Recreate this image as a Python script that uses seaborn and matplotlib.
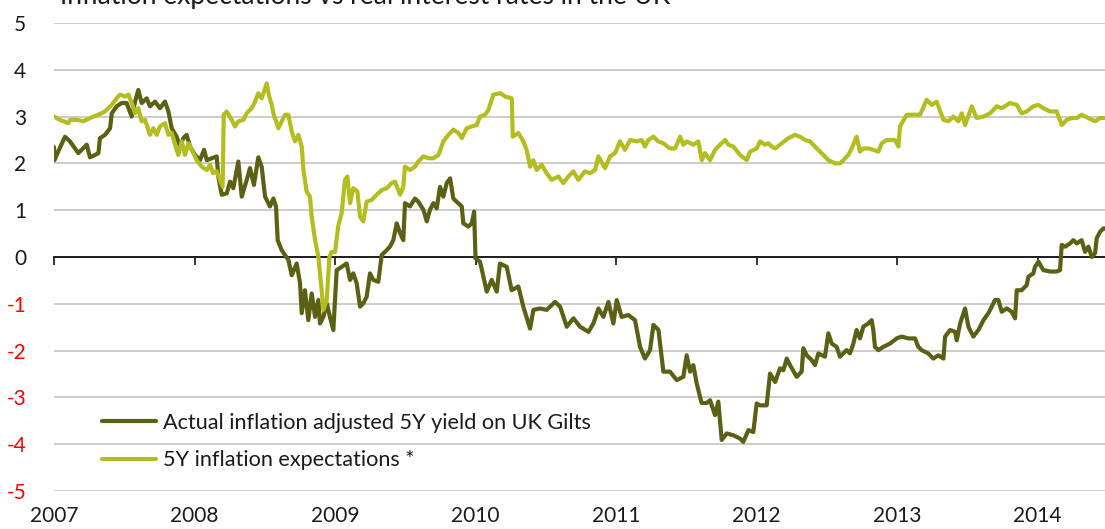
import numpy as np
import pandas as pd
import matplotlib
matplotlib.use('Agg')
import matplotlib.pyplot as plt
import seaborn as sns

# Colours
DARK = '#5b6114'
LIGHT = '#b4bd1e'
GRID = '#c8c8c8'
TEXT = '#1a1a1a'

TITLE = 'Inflation expectations vs real interest rates in the UK'
LABEL_REAL = 'Actual inflation adjusted 5Y yield on UK Gilts'
LABEL_EXP = '5Y inflation expectations *'

# Real yield: time in years since Jan 2007, value in %
real_t = [0.000, 0.004, 0.019, 0.078, 0.114, 0.149, 0.173, 0.197, 0.233, 0.256,
          0.292, 0.316, 0.327, 0.363, 0.399, 0.411, 0.446, 0.482, 0.517, 0.553,
          0.577, 0.600, 0.624, 0.660, 0.683, 0.719, 0.754, 0.790, 0.814, 0.838,
          0.873, 0.897, 0.920, 0.944, 0.968, 1.004, 1.039, 1.068, 1.087, 1.122,
          1.158, 1.169, 1.194, 1.229, 1.253, 1.276, 1.312, 1.336, 1.372, 1.395,
          1.423, 1.454, 1.478, 1.502, 1.537, 1.561, 1.580, 1.592, 1.620, 1.644,
          1.668, 1.692, 1.727, 1.751, 1.763, 1.786, 1.810, 1.834, 1.858, 1.881,
          1.893, 1.917, 1.941, 1.964, 1.988, 2.012, 2.047, 2.083, 2.107, 2.130,
          2.154, 2.178, 2.201, 2.225, 2.249, 2.273, 2.308, 2.332, 2.356, 2.391,
          2.415, 2.439, 2.463, 2.486, 2.498, 2.534, 2.569, 2.593, 2.629, 2.653,
          2.676, 2.700, 2.724, 2.747, 2.771, 2.795, 2.819, 2.842, 2.866, 2.902,
          2.913, 2.949, 2.973, 2.990, 3.000, 3.032, 3.080, 3.115, 3.151, 3.174,
          3.222, 3.257, 3.305, 3.340, 3.388, 3.412, 3.459, 3.507, 3.566, 3.602,
          3.649, 3.697, 3.744, 3.804, 3.839, 3.875, 3.910, 3.946, 3.981, 4.005,
          4.040, 4.088, 4.135, 4.171, 4.206, 4.242, 4.266, 4.302, 4.337, 4.384,
          4.432, 4.479, 4.503, 4.527, 4.550, 4.574, 4.609, 4.645, 4.669, 4.705,
          4.728, 4.752, 4.788, 4.835, 4.883, 4.906, 4.942, 4.977, 5.001, 5.025,
          5.072, 5.096, 5.132, 5.167, 5.191, 5.215, 5.238, 5.286, 5.321, 5.333,
          5.357, 5.392, 5.416, 5.440, 5.487, 5.511, 5.535, 5.570, 5.594, 5.641,
          5.665, 5.689, 5.712, 5.736, 5.760, 5.796, 5.819, 5.831, 5.843, 5.867,
          5.902, 5.950, 5.997, 6.033, 6.080, 6.128, 6.151, 6.175, 6.222, 6.258,
          6.294, 6.330, 6.342, 6.377, 6.413, 6.425, 6.449, 6.484, 6.508, 6.543,
          6.579, 6.615, 6.650, 6.674, 6.697, 6.721, 6.745, 6.781, 6.816, 6.840,
          6.852, 6.887, 6.923, 6.935, 6.970, 6.982, 7.006, 7.041, 7.089, 7.136,
          7.160, 7.172, 7.196, 7.231, 7.255, 7.279, 7.314, 7.338, 7.362, 7.386,
          7.409, 7.421, 7.445, 7.469, 7.481]
real_v = [2.35, 2.07, 2.18, 2.57, 2.47, 2.32, 2.22, 2.29, 2.40, 2.13,
          2.18, 2.22, 2.54, 2.61, 2.75, 3.07, 3.22, 3.29, 3.29, 3.00,
          3.32, 3.57, 3.29, 3.39, 3.22, 3.32, 3.18, 3.32, 3.11, 2.75,
          2.57, 2.36, 2.54, 2.61, 2.36, 2.18, 2.07, 2.29, 2.07, 2.11,
          2.15, 1.72, 1.33, 1.36, 1.61, 1.47, 2.04, 1.29, 1.65, 1.90,
          1.54, 2.13, 1.93, 1.29, 1.08, 1.25, 1.08, 0.36, 0.15, 0.04,
          -0.06, -0.39, -0.14, -0.56, -1.20, -0.71, -1.35, -0.78, -1.28, -0.92,
          -1.42, -1.28, -0.99, -1.28, -1.56, -0.28, -0.21, -0.14, -0.49, -0.35,
          -0.56, -1.06, -0.99, -0.85, -0.35, -0.49, -0.53, 0.04, 0.11, 0.22,
          0.36, 0.72, 0.51, 0.36, 1.15, 1.08, 1.25, 1.18, 1.01, 0.76,
          1.01, 1.15, 1.04, 1.50, 1.29, 1.58, 1.68, 1.25, 1.18, 1.08,
          0.72, 0.65, 0.72, 0.97, -0.03, -0.10, -0.74, -0.49, -0.74, -0.14,
          -0.21, -0.71, -0.63, -1.06, -1.53, -1.13, -1.10, -1.13, -0.96, -1.06,
          -1.49, -1.31, -1.49, -1.60, -1.42, -1.10, -1.28, -0.96, -1.42, -0.92,
          -1.28, -1.24, -1.35, -1.92, -2.17, -1.99, -1.45, -1.56, -2.45, -2.45,
          -2.63, -2.56, -2.10, -2.45, -2.31, -2.70, -3.12, -3.12, -3.06, -3.38,
          -3.09, -3.91, -3.77, -3.81, -3.88, -3.95, -3.70, -3.74, -3.13, -3.17,
          -3.17, -2.49, -2.67, -2.38, -2.42, -2.17, -2.31, -2.56, -2.45, -1.95,
          -2.10, -2.20, -2.31, -2.06, -2.13, -1.63, -1.85, -1.92, -2.13, -1.99,
          -2.06, -1.85, -1.56, -1.74, -1.49, -1.42, -1.35, -1.56, -1.92, -1.99,
          -1.92, -1.85, -1.74, -1.70, -1.74, -1.74, -1.92, -1.99, -2.06, -2.17,
          -2.10, -2.17, -1.70, -1.56, -1.60, -1.78, -1.42, -1.10, -1.49, -1.70,
          -1.56, -1.35, -1.20, -1.06, -0.92, -0.92, -1.17, -1.10, -1.17, -1.31,
          -0.71, -0.71, -0.60, -0.42, -0.35, -0.21, -0.10, -0.28, -0.31, -0.31,
          -0.28, 0.26, 0.22, 0.29, 0.36, 0.29, 0.36, 0.11, 0.22, 0.00,
          0.08, 0.40, 0.54, 0.61, 0.61]

# Inflation expectations: time in years since Jan 2007, value in %
exp_t = [0.000, 0.043, 0.102, 0.114, 0.161, 0.209, 0.256, 0.316, 0.363, 0.411,
         0.446, 0.470, 0.505, 0.529, 0.553, 0.577, 0.600, 0.624, 0.648, 0.683,
         0.707, 0.731, 0.754, 0.790, 0.814, 0.838, 0.861, 0.885, 0.909, 0.932,
         0.956, 0.992, 1.015, 1.051, 1.087, 1.110, 1.134, 1.158, 1.181, 1.200,
         1.208, 1.229, 1.265, 1.288, 1.312, 1.348, 1.371, 1.407, 1.431, 1.454,
         1.478, 1.514, 1.530, 1.550, 1.561, 1.597, 1.644, 1.668, 1.692, 1.715,
         1.739, 1.763, 1.775, 1.798, 1.822, 1.834, 1.858, 1.881, 1.905, 1.917,
         1.941, 1.960, 1.976, 2.000, 2.024, 2.047, 2.071, 2.088, 2.107, 2.130,
         2.159, 2.178, 2.201, 2.225, 2.261, 2.296, 2.332, 2.368, 2.403, 2.427,
         2.463, 2.486, 2.498, 2.534, 2.569, 2.593, 2.629, 2.665, 2.700, 2.736,
         2.771, 2.807, 2.842, 2.878, 2.902, 2.937, 2.973, 3.008, 3.032, 3.068,
         3.091, 3.103, 3.127, 3.175, 3.210, 3.258, 3.265, 3.305, 3.340, 3.364,
         3.388, 3.411, 3.435, 3.471, 3.506, 3.542, 3.590, 3.625, 3.661, 3.696,
         3.732, 3.779, 3.815, 3.851, 3.874, 3.922, 3.957, 3.993, 4.028, 4.064,
         4.100, 4.147, 4.183, 4.206, 4.230, 4.266, 4.301, 4.337, 4.384, 4.420,
         4.456, 4.479, 4.503, 4.550, 4.586, 4.610, 4.633, 4.669, 4.705, 4.740,
         4.776, 4.800, 4.835, 4.883, 4.930, 4.954, 5.001, 5.025, 5.060, 5.084,
         5.108, 5.132, 5.179, 5.227, 5.274, 5.310, 5.345, 5.381, 5.428, 5.476,
         5.511, 5.559, 5.594, 5.618, 5.653, 5.677, 5.712, 5.736, 5.760, 5.796,
         5.831, 5.867, 5.891, 5.926, 5.986, 6.010, 6.021, 6.069, 6.164, 6.211,
         6.247, 6.282, 6.330, 6.366, 6.401, 6.437, 6.460, 6.484, 6.532, 6.567,
         6.615, 6.662, 6.710, 6.745, 6.804, 6.852, 6.887, 6.923, 6.970, 7.006,
         7.041, 7.089, 7.136, 7.172, 7.208, 7.243, 7.279, 7.314, 7.362, 7.409,
         7.445, 7.481]
exp_v = [3.00, 2.93, 2.86, 2.93, 2.93, 2.90, 2.97, 3.04, 3.11, 3.25,
         3.39, 3.47, 3.43, 3.47, 3.29, 3.07, 3.18, 2.90, 2.93, 2.61,
         2.75, 2.61, 2.79, 2.86, 2.61, 2.65, 2.40, 2.18, 2.47, 2.18,
         2.43, 2.22, 2.07, 1.93, 1.86, 1.97, 1.79, 1.83, 1.65, 1.50,
         3.04, 3.11, 2.93, 2.79, 2.90, 2.93, 3.07, 3.18, 3.32, 3.50,
         3.39, 3.71, 3.45, 3.25, 3.07, 2.75, 3.04, 3.04, 2.68, 2.47,
         2.61, 2.36, 1.86, 1.40, 1.29, 0.86, 0.36, 0.01, -0.71, -1.13,
         -0.92, 0.00, 0.11, 0.11, 0.68, 0.93, 1.65, 1.72, 1.15, 1.47,
         1.40, 0.86, 0.76, 1.18, 1.22, 1.33, 1.43, 1.47, 1.58, 1.61,
         1.33, 1.50, 1.93, 1.86, 1.93, 2.04, 2.15, 2.11, 2.11, 2.18,
         2.47, 2.61, 2.72, 2.65, 2.54, 2.75, 2.79, 2.82, 3.00, 3.04,
         3.14, 3.25, 3.47, 3.50, 3.43, 3.39, 2.57, 2.65, 2.47, 2.29,
         1.93, 2.07, 1.86, 1.97, 1.79, 1.65, 1.72, 1.58, 1.72, 1.83,
         1.65, 1.83, 1.79, 1.86, 2.15, 1.90, 2.15, 2.22, 2.47, 2.29,
         2.50, 2.47, 2.50, 2.36, 2.50, 2.57, 2.47, 2.43, 2.32, 2.32,
         2.57, 2.40, 2.47, 2.40, 2.47, 2.07, 2.22, 2.07, 2.29, 2.40,
         2.50, 2.40, 2.36, 2.18, 2.07, 2.25, 2.32, 2.47, 2.40, 2.43,
         2.36, 2.32, 2.43, 2.54, 2.61, 2.57, 2.50, 2.47, 2.32, 2.18,
         2.07, 2.00, 2.00, 2.07, 2.18, 2.32, 2.57, 2.25, 2.32, 2.32,
         2.29, 2.25, 2.43, 2.50, 2.50, 2.36, 2.79, 3.04, 3.04, 3.36,
         3.25, 3.32, 2.93, 2.90, 3.00, 2.90, 3.07, 2.82, 3.22, 2.97,
         3.00, 3.07, 3.22, 3.18, 3.29, 3.25, 3.07, 3.11, 3.22, 3.25,
         3.18, 3.11, 3.11, 2.82, 2.93, 2.97, 2.97, 3.04, 2.97, 2.90,
         2.97, 2.97]

year_ticks = [2007, 2008, 2009, 2010, 2011, 2012, 2013, 2014]
y_ticks = [-5, -4, -3, -2, -1, 0, 1, 2, 3, 4, 5]

sns.set_theme(style='white')
plt.rcParams['font.family'] = ['Lato', 'DejaVu Sans']

real = pd.DataFrame({'year': 2007 + np.array(real_t), 'value': real_v})
expect = pd.DataFrame({'year': 2007 + np.array(exp_t), 'value': exp_v})

fig = plt.figure(figsize=(11.05, 5.29), dpi=100)
ax = fig.add_axes([54 / 1105, 38 / 529, 1051 / 1105, 468 / 529])

sns.lineplot(data=real, x='year', y='value', color=DARK, linewidth=3.0,
             label=LABEL_REAL, ax=ax, zorder=3)
sns.lineplot(data=expect, x='year', y='value', color=LIGHT, linewidth=3.0,
             label=LABEL_EXP, ax=ax, zorder=4)

ax.set_xlim(2007, 2014.48)
ax.set_ylim(-5, 5)
ax.set_xlabel('')
ax.set_ylabel('')

# horizontal gridlines
ax.set_yticks(y_ticks)
ax.set_yticklabels([str(v) for v in y_ticks])
ax.yaxis.grid(True, color=GRID, linewidth=1.3)
ax.xaxis.grid(False)
ax.set_axisbelow(True)
ax.tick_params(axis='y', length=0, pad=20, labelsize=15, labelcolor=TEXT)
for lab, v in zip(ax.get_yticklabels(), y_ticks):
    if v < 0:
        lab.set_color('red')

# zero line carries the year ticks
for s in ['top', 'right', 'left']:
    ax.spines[s].set_visible(False)
ax.spines['bottom'].set_position(('data', 0))
ax.spines['bottom'].set_color('black')
ax.spines['bottom'].set_linewidth(1.2)
ax.spines['bottom'].set_zorder(2)
ax.set_xticks(year_ticks)
ax.tick_params(axis='x', bottom=True, direction='out', length=6, width=1.1,
               color='black', labelbottom=False)

# year labels at the bottom of the plot
sec = ax.secondary_xaxis('bottom')
sec.set_xticks(year_ticks)
sec.set_xticklabels([str(y) for y in year_ticks])
sec.spines['bottom'].set_visible(False)
sec.tick_params(length=0, pad=11, labelsize=15, labelcolor=TEXT)

ax.legend(loc='center left', bbox_to_anchor=(0.0457, 0.106), frameon=False,
          fontsize=15.6, handlelength=2.5, handletextpad=0.3, labelspacing=0.82,
          borderpad=0, borderaxespad=0, labelcolor=TEXT)

fig.text(60 / 1105, 1 - 4 / 529, TITLE, fontsize=19, color=TEXT,
         ha='left', va='baseline')

fig.savefig('out.png', dpi=100)
